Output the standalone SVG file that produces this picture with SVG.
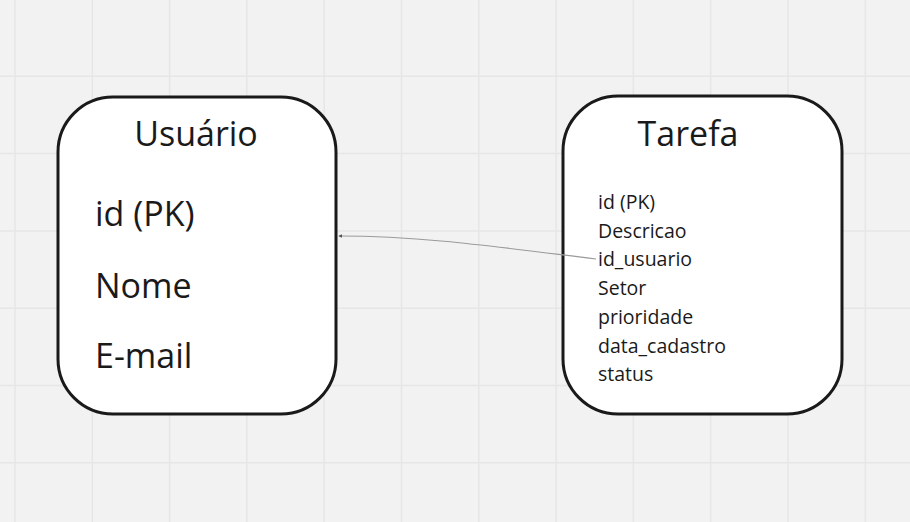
<svg xmlns="http://www.w3.org/2000/svg" width="910" height="522" viewBox="0 0 910 522">
  <style>
    .grid line { stroke: #e6e6e6; stroke-width: 1.5; }
    .box { fill: #ffffff; stroke: #1a1a1a; stroke-width: 3; }
    .title { font-family: "Open Sans", "Noto Sans", sans-serif; font-size: 34px; fill: #1a1a1a; text-anchor: middle; }
    .big { font-family: "Open Sans", "Noto Sans", sans-serif; font-size: 34px; fill: #1a1a1a; }
    .small { font-family: "Open Sans", "Noto Sans", sans-serif; font-size: 19.5px; fill: #1a1a1a; }
    .conn { fill: none; stroke: #9a9a9a; stroke-width: 1.2; }
  </style>
  <defs>
    <marker id="arrow" viewBox="0 0 6 6" refX="5" refY="3" markerWidth="4" markerHeight="4" orient="auto-start-reverse" markerUnits="userSpaceOnUse">
      <path d="M0,0 L6,3 L0,6 z" fill="#555"/>
    </marker>
  </defs>
  <rect x="0" y="0" width="910" height="522" fill="#f2f2f2"/>
  <g class="grid">
    <line x1="15" y1="0" x2="15" y2="522"/>
    <line x1="92.3" y1="0" x2="92.3" y2="522"/>
    <line x1="169.6" y1="0" x2="169.6" y2="522"/>
    <line x1="246.9" y1="0" x2="246.9" y2="522"/>
    <line x1="324.2" y1="0" x2="324.2" y2="522"/>
    <line x1="401.5" y1="0" x2="401.5" y2="522"/>
    <line x1="478.8" y1="0" x2="478.8" y2="522"/>
    <line x1="556.1" y1="0" x2="556.1" y2="522"/>
    <line x1="633.4" y1="0" x2="633.4" y2="522"/>
    <line x1="710.7" y1="0" x2="710.7" y2="522"/>
    <line x1="788" y1="0" x2="788" y2="522"/>
    <line x1="865.3" y1="0" x2="865.3" y2="522"/>
    <line x1="0" y1="76.3" x2="910" y2="76.3"/>
    <line x1="0" y1="153.6" x2="910" y2="153.6"/>
    <line x1="0" y1="230.9" x2="910" y2="230.9"/>
    <line x1="0" y1="308.2" x2="910" y2="308.2"/>
    <line x1="0" y1="385.5" x2="910" y2="385.5"/>
    <line x1="0" y1="462.8" x2="910" y2="462.8"/>
  </g>
  <g id="usuario">
    <rect class="box" x="58" y="97" width="278" height="317" rx="55" ry="55"/>
    <text class="title" x="196" y="146">Usuário</text>
    <text class="big" x="95" y="226">id (PK)</text>
    <text class="big" x="95" y="298">Nome</text>
    <text class="big" x="95" y="368">E-mail</text>
  </g>
  <g id="tarefa">
    <rect class="box" x="563" y="96" width="279" height="318" rx="55" ry="55"/>
    <text class="title" x="688" y="146">Tarefa</text>
    <text class="small" x="598" y="209">id (PK)</text>
    <text class="small" x="598" y="237.7">Descricao</text>
    <text class="small" x="598" y="266.4">id_usuario</text>
    <text class="small" x="598" y="295.1">Setor</text>
    <text class="small" x="598" y="323.8">prioridade</text>
    <text class="small" x="598" y="352.5">data_cadastro</text>
    <text class="small" x="598" y="381.2">status</text>
  </g>
  <g id="connectors">
    <path class="conn" d="M596,259 C490,246 420,236 339,236" marker-end="url(#arrow)"/>
  </g>
</svg>
